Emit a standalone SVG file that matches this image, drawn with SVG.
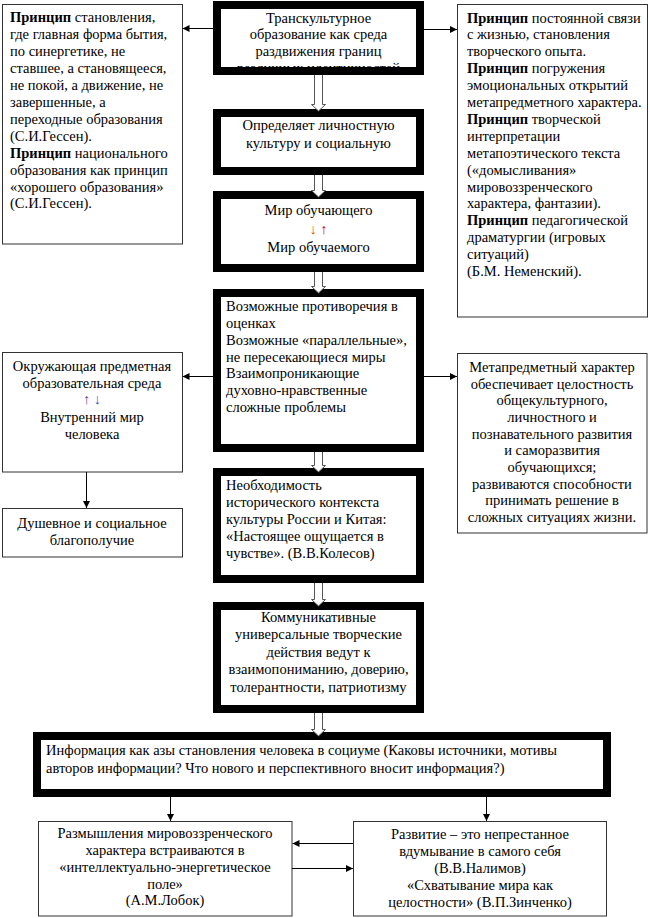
<svg xmlns="http://www.w3.org/2000/svg" width="650" height="918" viewBox="0 0 650 918" font-family="'Liberation Serif', 'Times New Roman', 'DejaVu Serif', serif" font-size="14.5">
<defs>
<style>
text{font-family:'Liberation Serif','Times New Roman','DejaVu Serif',serif;font-size:14.5px;fill:#000}
.c{text-anchor:middle}
.b{font-weight:bold}
.ar{font-size:14.5px}
.thin{fill:#fff;stroke:#333;stroke-width:1}
.thick{fill:#fff;stroke:#000;stroke-width:8}
.ln{stroke:#000;stroke-width:1;fill:none}
.ha{fill:#fff;stroke:#555;stroke-width:1}
</style>
<marker id="ah" viewBox="0 0 10 10" refX="10" refY="5" markerWidth="7" markerHeight="7" markerUnits="userSpaceOnUse" orient="auto">
<path d="M0,0 L10,5 L0,10 z" fill="#000"/>
</marker>
<clipPath id="cb1"><rect x="221" y="9" width="195" height="58"/></clipPath>
</defs>
<rect width="650" height="918" fill="#fff"/>

<g id="left1">
<rect class="thin" x="2.5" y="4.5" width="180" height="239.5"/>
<text x="10" y="22"><tspan class="b">Принцип</tspan> становления,</text>
<text x="10" y="39">где главная форма бытия,</text>
<text x="10" y="56">по синергетике, не</text>
<text x="10" y="73">ставшее, а становящееся,</text>
<text x="10" y="90">не покой, а движение, не</text>
<text x="10" y="107">завершенные, а</text>
<text x="10" y="124">переходные образования</text>
<text x="10" y="141">(С.И.Гессен).</text>
<text x="10" y="158"><tspan class="b">Принцип</tspan> национального</text>
<text x="10" y="175">образования как принцип</text>
<text x="10" y="192">«хорошего образования»</text>
<text x="10" y="208">(С.И.Гессен).</text>
</g>

<g id="right1">
<rect class="thin" x="457.5" y="4.5" width="190" height="312.5"/>
<text x="467" y="23"><tspan class="b">Принцип</tspan> постоянной связи</text>
<text x="467" y="39">с жизнью, становления</text>
<text x="467" y="56">творческого опыта.</text>
<text x="467" y="73"><tspan class="b">Принцип</tspan> погружения</text>
<text x="467" y="90">эмоциональных открытий</text>
<text x="467" y="107">метапредметного характера.</text>
<text x="467" y="124"><tspan class="b">Принцип</tspan> творческой</text>
<text x="467" y="141">интерпретации</text>
<text x="467" y="158">метапоэтического текста</text>
<text x="467" y="175">(«домысливания»</text>
<text x="467" y="192">мировоззренческого</text>
<text x="467" y="208">характера, фантазии).</text>
<text x="467" y="225"><tspan class="b">Принцип</tspan> педагогической</text>
<text x="467" y="242">драматургии (игровых</text>
<text x="467" y="259">ситуаций)</text>
<text x="467" y="276">(Б.М. Неменский).</text>
</g>

<g id="box1">
<rect class="thick" x="217" y="5" width="203" height="66"/>
<g clip-path="url(#cb1)">
<text class="c" x="318.5" y="23">Транскультурное</text>
<text class="c" x="318.5" y="39">образование как среда</text>
<text class="c" x="318.5" y="56">раздвижения границ</text>
<text class="c" x="318.5" y="73">различных идентичностей</text>
</g>
</g>

<g id="box2">
<rect class="thick" x="217" y="113" width="203" height="58"/>
<text class="c" x="318.5" y="130">Определяет личностную</text>
<text class="c" x="318.5" y="148">культуру и социальную</text>
</g>

<g id="box3">
<rect class="thick" x="217" y="195" width="203" height="73"/>
<text class="c" x="318.5" y="215">Мир обучающего</text>
<text class="c ar" x="318.5" y="234"><tspan fill="#c55a11">↓</tspan> <tspan fill="#c00000">↑</tspan></text>
<text class="c" x="318.5" y="252">Мир обучаемого</text>
</g>

<g id="box4">
<rect class="thick" x="217" y="293" width="203" height="155"/>
<text x="226" y="311">Возможные противоречия в</text>
<text x="226" y="328">оценках</text>
<text x="226" y="345">Возможные «параллельные»,</text>
<text x="226" y="362">не пересекающиеся миры</text>
<text x="226" y="378">Взаимопроникающие</text>
<text x="226" y="395">духовно-нравственные</text>
<text x="226" y="412">сложные проблемы</text>
</g>

<g id="left2">
<rect class="thin" x="2.5" y="352.5" width="180" height="119.5"/>
<text class="c" x="92" y="371">Окружающая предметная</text>
<text class="c" x="92" y="388">образовательная среда</text>
<text class="c ar" x="92" y="404"><tspan fill="#5b3fa0">↑</tspan> <tspan fill="#3a5aa8">↓</tspan></text>
<text class="c" x="92" y="422">Внутренний мир</text>
<text class="c" x="92" y="439">человека</text>
</g>

<g id="left3">
<rect class="thin" x="2.5" y="508.5" width="180" height="48.5"/>
<text class="c" x="92" y="528">Душевное и социальное</text>
<text class="c" x="92" y="545">благополучие</text>
</g>

<g id="right2">
<rect class="thin" x="457.5" y="353.5" width="189.5" height="179.5"/>
<text class="c" x="552" y="372">Метапредметный характер</text>
<text class="c" x="552" y="389">обеспечивает целостность</text>
<text class="c" x="552" y="405">общекультурного,</text>
<text class="c" x="552" y="422">личностного и</text>
<text class="c" x="552" y="439">познавательного развития</text>
<text class="c" x="552" y="455">и саморазвития</text>
<text class="c" x="552" y="472">обучающихся;</text>
<text class="c" x="552" y="489">развиваются способности</text>
<text class="c" x="552" y="505">принимать решение в</text>
<text class="c" x="552" y="522">сложных ситуациях жизни.</text>
</g>

<g id="box5">
<rect class="thick" x="217" y="472" width="203" height="107"/>
<text x="226" y="490">Необходимость</text>
<text x="226" y="507">исторического контекста</text>
<text x="226" y="524">культуры России и Китая:</text>
<text x="226" y="541">«Настоящее ощущается в</text>
<text x="226" y="558">чувстве». (В.В.Колесов)</text>
</g>

<g id="box6">
<rect class="thick" x="217" y="606" width="203" height="103"/>
<text class="c" x="318.5" y="622">Коммуникативные</text>
<text class="c" x="318.5" y="639">универсальные творческие</text>
<text class="c" x="318.5" y="657">действия ведут к</text>
<text class="c" x="318.5" y="674">взаимопониманию, доверию,</text>
<text class="c" x="318.5" y="692">толерантности, патриотизму</text>
</g>

<g id="info">
<rect class="thick" x="37" y="736" width="570" height="57"/>
<text x="46" y="755">Информация как азы становления человека в социуме (Каковы источники, мотивы</text>
<text x="46" y="773">авторов информации? Что нового и перспективного вносит информация?)</text>
</g>

<g id="bottomLeft">
<rect class="thin" x="38.5" y="821.5" width="253.5" height="94.5"/>
<text class="c" x="165" y="838">Размышления мировоззренческого</text>
<text class="c" x="165" y="855">характера встраиваются в</text>
<text class="c" x="165" y="872">«интеллектуально-энергетическое</text>
<text class="c" x="165" y="889">поле»</text>
<text class="c" x="165" y="905">(А.М.Лобок)</text>
</g>

<g id="bottomRight">
<rect class="thin" x="353.5" y="821.5" width="253" height="94.5"/>
<text class="c" x="480" y="839">Развитие – это непрестанное</text>
<text class="c" x="480" y="856">вдумывание в самого себя</text>
<text class="c" x="480" y="873">(В.В.Налимов)</text>
<text class="c" x="480" y="890">«Схватывание мира как</text>
<text class="c" x="480" y="907">целостности» (В.П.Зинченко)</text>
</g>

<g id="connectors">
<line class="ln" x1="213" y1="28.5" x2="182.5" y2="28.5" marker-end="url(#ah)"/>
<line class="ln" x1="424" y1="29.5" x2="457" y2="29.5" marker-end="url(#ah)"/>
<line class="ln" x1="213" y1="376.5" x2="182.5" y2="376.5" marker-end="url(#ah)"/>
<line class="ln" x1="424" y1="376.5" x2="457" y2="376.5" marker-end="url(#ah)"/>
<line class="ln" x1="86.5" y1="472" x2="86.5" y2="508" marker-end="url(#ah)"/>
<line class="ln" x1="170.5" y1="797" x2="170.5" y2="821" marker-end="url(#ah)"/>
<line class="ln" x1="486.5" y1="797" x2="486.5" y2="821" marker-end="url(#ah)"/>
<line class="ln" x1="353" y1="843.5" x2="292.5" y2="843.5" marker-end="url(#ah)"/>
<line class="ln" x1="292" y1="868.5" x2="353" y2="868.5" marker-end="url(#ah)"/>
<path class="ha" d="M314.5,75 V104.5 H311.5 L318.5,111 L325.5,104.5 H322.5 V75"/>
<path class="ha" d="M314.5,175 V190.5 H311.5 L318.5,197 L325.5,190.5 H322.5 V175"/>
<path class="ha" d="M314.5,272 V286.5 H311.5 L318.5,293 L325.5,286.5 H322.5 V272"/>
<path class="ha" d="M314.5,452 V465.5 H311.5 L318.5,472 L325.5,465.5 H322.5 V452"/>
<path class="ha" d="M314.5,583 V599.5 H311.5 L318.5,606 L325.5,599.5 H322.5 V583"/>
<path class="ha" d="M314.5,713 V729.5 H311.5 L318.5,736 L325.5,729.5 H322.5 V713"/>
</g>
</svg>
